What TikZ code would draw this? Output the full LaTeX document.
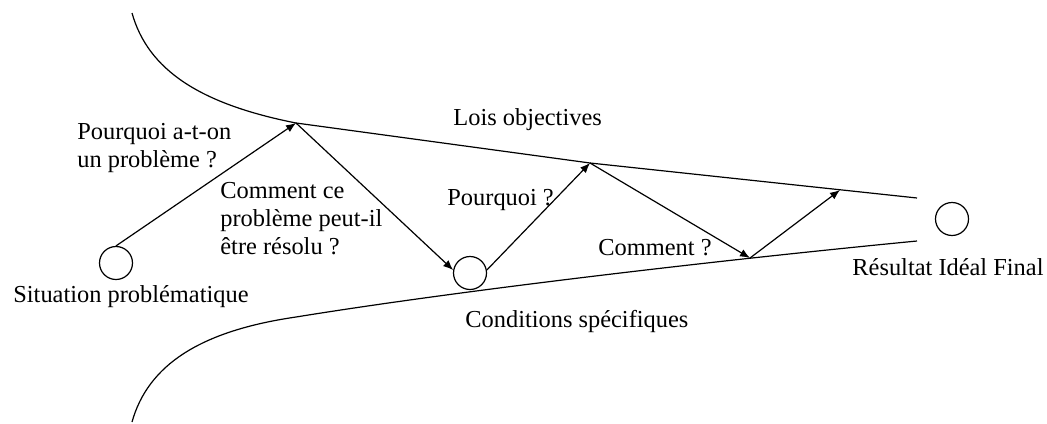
\documentclass[tikz,border=0pt]{standalone}
\usepackage{fontspec}
\setmainfont{Liberation Serif}
\usetikzlibrary{arrows.meta}
\begin{document}
\begin{tikzpicture}[x=0.5pt,y=-0.5pt,
  curve/.style={line width=0.6pt},
  arr/.style={line width=0.6pt,-{Latex[length=5pt,width=4pt]}},
  state/.style={circle,draw,line width=0.6pt,minimum size=16.5pt,inner sep=0pt},
  lbl/.style={font=\fontsize{12.2}{13.8}\selectfont,inner sep=0pt,anchor=base west,align=left}]
\useasboundingbox (0,0) rectangle (1047,423);
\node[state] (sp) at (116,263) {};
\node[state] (mid) at (470,273) {};
\node[state] (rif) at (952,219) {};
\coordinate (a) at (296,123);
\coordinate (b) at (590,163);
\coordinate (c) at (750,258);
\coordinate (d) at (840,190);
\coordinate (u0) at (132,13);
\coordinate (u1) at (917,198);
\coordinate (l0) at (132,422);
\coordinate (l1) at (296,317);
\coordinate (l2) at (917,241);
\draw[curve] (u0) .. controls (148,70) and (200,104) .. (a) -- (b) -- (u1);
\draw[curve] (l0) .. controls (148,365) and (200,331) .. (l1) .. controls (450,292) and (700,262) .. (l2);
\draw[arr] (sp.north) -- (a);
\draw[arr] (a) -- (mid.170);
\draw[arr] (mid.10) -- (b);
\draw[arr] (b) -- (c);
\draw[arr] (c) -- (d);
\node[lbl] (t1) at (77,167) {Pourquoi a-t-on\\un problème ?};
\node[lbl] (t2) at (220,254) {Comment ce\\problème peut-il\\être résolu ?};
\node[lbl] (t3) at (13,302) {Situation problématique};
\node[lbl] (t4) at (453,125) {Lois objectives};
\node[lbl] (t5) at (447,205) {Pourquoi ?};
\node[lbl] (t6) at (598,255) {Comment ?};
\node[lbl] (t7) at (852,275) {Résultat Idéal Final};
\node[lbl] (t8) at (465,327) {Conditions spécifiques};
\end{tikzpicture}
\end{document}
